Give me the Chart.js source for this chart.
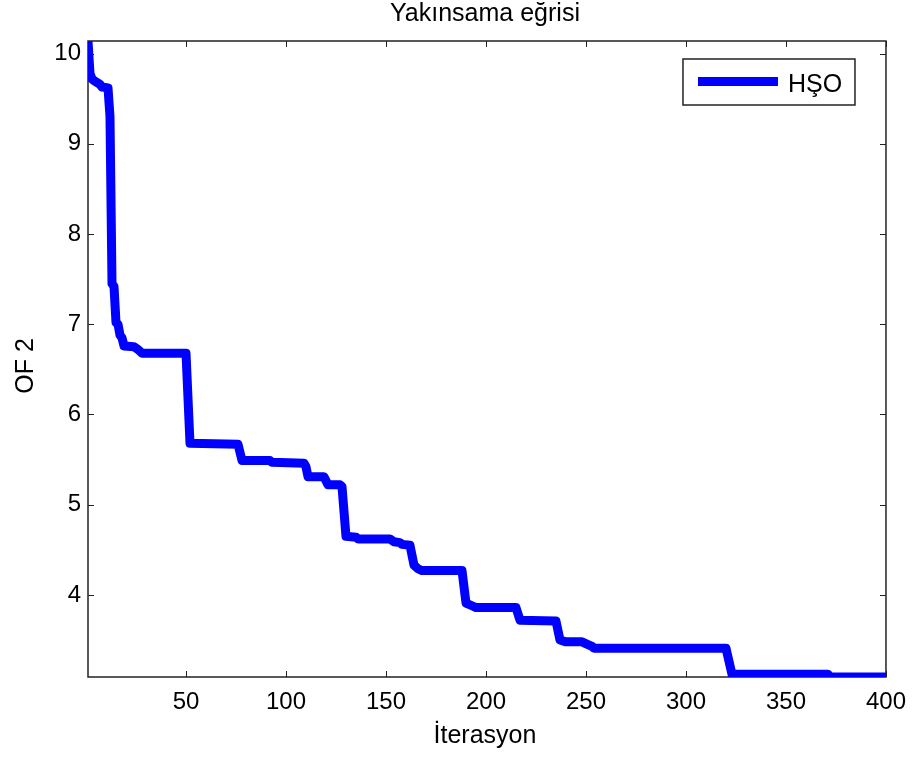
<!DOCTYPE html>
<html>
<head>
<meta charset="utf-8">
<title>Yakınsama eğrisi</title>
<script src="https://cdn.jsdelivr.net/npm/chart.js@4.4.0/dist/chart.umd.min.js"></script>
<style>
  html, body { margin: 0; padding: 0; background: #fff; }
  canvas { display: block; }
</style>
</head>
<body>
<canvas id="convChart" width="917" height="760"></canvas>
<script>
// yakınsama verisi: iterasyon numarası ve o andaki en iyi OF 2 değeri
const iterations = [1, 2, 3, 4, 7, 8, 11, 12, 13, 14, 15, 16, 17, 18, 19, 24, 26, 28,
    50, 52, 76, 78, 92, 93, 109, 110, 111, 119, 121, 127, 128, 130, 135, 136,
    152, 154, 157, 158, 162, 164, 166, 168, 188, 190, 193, 195, 215, 217, 235,
    237, 240, 248, 251, 253, 254, 320, 323, 371, 372, 400];
const ofValues = [10.14, 9.78, 9.72, 9.70, 9.66, 9.63, 9.62, 9.30, 7.45, 7.42, 7.02, 7.00, 6.88, 6.85, 6.76, 6.75, 6.72, 6.68,
    6.68, 5.68, 5.67, 5.49, 5.49, 5.47, 5.46, 5.42, 5.31, 5.31, 5.22, 5.22, 5.20, 4.65, 4.64, 4.62,
    4.62, 4.59, 4.58, 4.56, 4.55, 4.33, 4.29, 4.27, 4.27, 3.91, 3.88, 3.86, 3.86, 3.72, 3.71,
    3.50, 3.48, 3.48, 3.45, 3.43, 3.41, 3.41, 3.12, 3.12, 3.09, 3.09];

const xTicks = [50, 100, 150, 200, 250, 300, 350, 400];
const yTicks = [4, 5, 6, 7, 8, 9, 10];

const seriesName = 'HŞO';
const chartTitle = 'Yakınsama eğrisi';
const xLabel = 'İterasyon';
const yLabel = 'OF 2';

const FONT = '"Liberation Sans", Arial, Helvetica, sans-serif';
const LINE_COLOR = '#0000ff';

// MATLAB tarzı çerçeve: içe dönük tikler, kutu, lejant ve başlıklar
const matlabFrame = {
    id: 'matlabFrame',
    beforeDatasetsDraw(chart) {
        const { ctx, chartArea: a, scales: { x, y } } = chart;
        ctx.save();
        ctx.strokeStyle = '#222';
        ctx.lineWidth = 1;
        ctx.beginPath();
        xTicks.forEach(v => {
            const px = Math.round(x.getPixelForValue(v)) + 0.5;
            ctx.moveTo(px, a.bottom); ctx.lineTo(px, a.bottom - 6);
            ctx.moveTo(px, a.top); ctx.lineTo(px, a.top + 6);
        });
        yTicks.forEach(v => {
            const py = Math.round(y.getPixelForValue(v)) + 0.5;
            ctx.moveTo(a.left, py); ctx.lineTo(a.left + 6, py);
            ctx.moveTo(a.right, py); ctx.lineTo(a.right - 6, py);
        });
        ctx.stroke();
        ctx.lineWidth = 1.5;
        ctx.strokeRect(a.left, a.top, a.right - a.left, a.bottom - a.top);
        ctx.restore();
    },
    afterDatasetsDraw(chart) {
        const { ctx, chartArea: a } = chart;
        const ds = chart.data.datasets[0];
        // lejant kutusu sağ üst köşede
        const bw = 172, bh = 46;
        const bx = a.right - 31 - bw, by = a.top + 18;
        ctx.save();
        ctx.fillStyle = '#fff';
        ctx.fillRect(bx, by, bw, bh);
        ctx.strokeStyle = '#222';
        ctx.lineWidth = 1.5;
        ctx.strokeRect(bx, by, bw, bh);
        ctx.strokeStyle = ds.borderColor;
        ctx.lineWidth = 9;
        ctx.beginPath();
        ctx.moveTo(bx + 15, by + 22.5);
        ctx.lineTo(bx + 95, by + 22.5);
        ctx.stroke();
        ctx.fillStyle = '#000';
        ctx.font = '25px ' + FONT;
        ctx.textBaseline = 'alphabetic';
        ctx.textAlign = 'left';
        ctx.fillText(ds.label, bx + 105, by + 33);
        ctx.restore();
    },
    afterDraw(chart) {
        const { ctx, chartArea: a } = chart;
        const cx = (a.left + a.right) / 2 - 2;
        ctx.save();
        ctx.fillStyle = '#000';
        ctx.textBaseline = 'alphabetic';
        ctx.textAlign = 'center';
        ctx.font = '25px ' + FONT;
        ctx.fillText(chartTitle, cx, 21);
        ctx.fillText(xLabel, cx, 743);
        ctx.translate(33, 366);
        ctx.rotate(-Math.PI / 2);
        ctx.fillText(yLabel, 0, 0);
        ctx.restore();
    }
};

const ctx = document.getElementById('convChart').getContext('2d');
new Chart(ctx, {
    type: 'line',
    data: {
        datasets: [{
            label: seriesName,
            data: iterations.map((it, i) => ({ x: it, y: ofValues[i] })),
            borderColor: LINE_COLOR,
            borderWidth: 9,
            borderJoinStyle: 'round',
            borderCapStyle: 'round',
            pointRadius: 0,
            tension: 0,
            fill: false,
            clip: 0
        }]
    },
    options: {
        responsive: false,
        animation: false,
        layout: { padding: { top: 41, right: 31, left: 0, bottom: 0 } },
        plugins: {
            legend: { display: false },
            title: { display: false },
            tooltip: { enabled: false }
        },
        scales: {
            x: {
                type: 'linear',
                min: 1,
                max: 400,
                grid: { display: false, drawTicks: false },
                border: { display: false },
                afterBuildTicks: s => { s.ticks = xTicks.map(v => ({ value: v })); },
                afterFit: s => { s.height = 83; },
                ticks: {
                    color: '#000',
                    font: { family: FONT, size: 24 },
                    padding: 11,
                    maxRotation: 0,
                    autoSkip: false
                }
            },
            y: {
                type: 'linear',
                min: Math.min(...ofValues),
                max: Math.max(...ofValues),
                grid: { display: false, drawTicks: false },
                border: { display: false },
                afterBuildTicks: s => { s.ticks = yTicks.map(v => ({ value: v })); },
                afterFit: s => { s.width = 88; },
                ticks: {
                    color: '#000',
                    font: { family: FONT, size: 24 },
                    padding: 7,
                    autoSkip: false
                }
            }
        }
    },
    plugins: [matlabFrame]
});
</script>
</body>
</html>
